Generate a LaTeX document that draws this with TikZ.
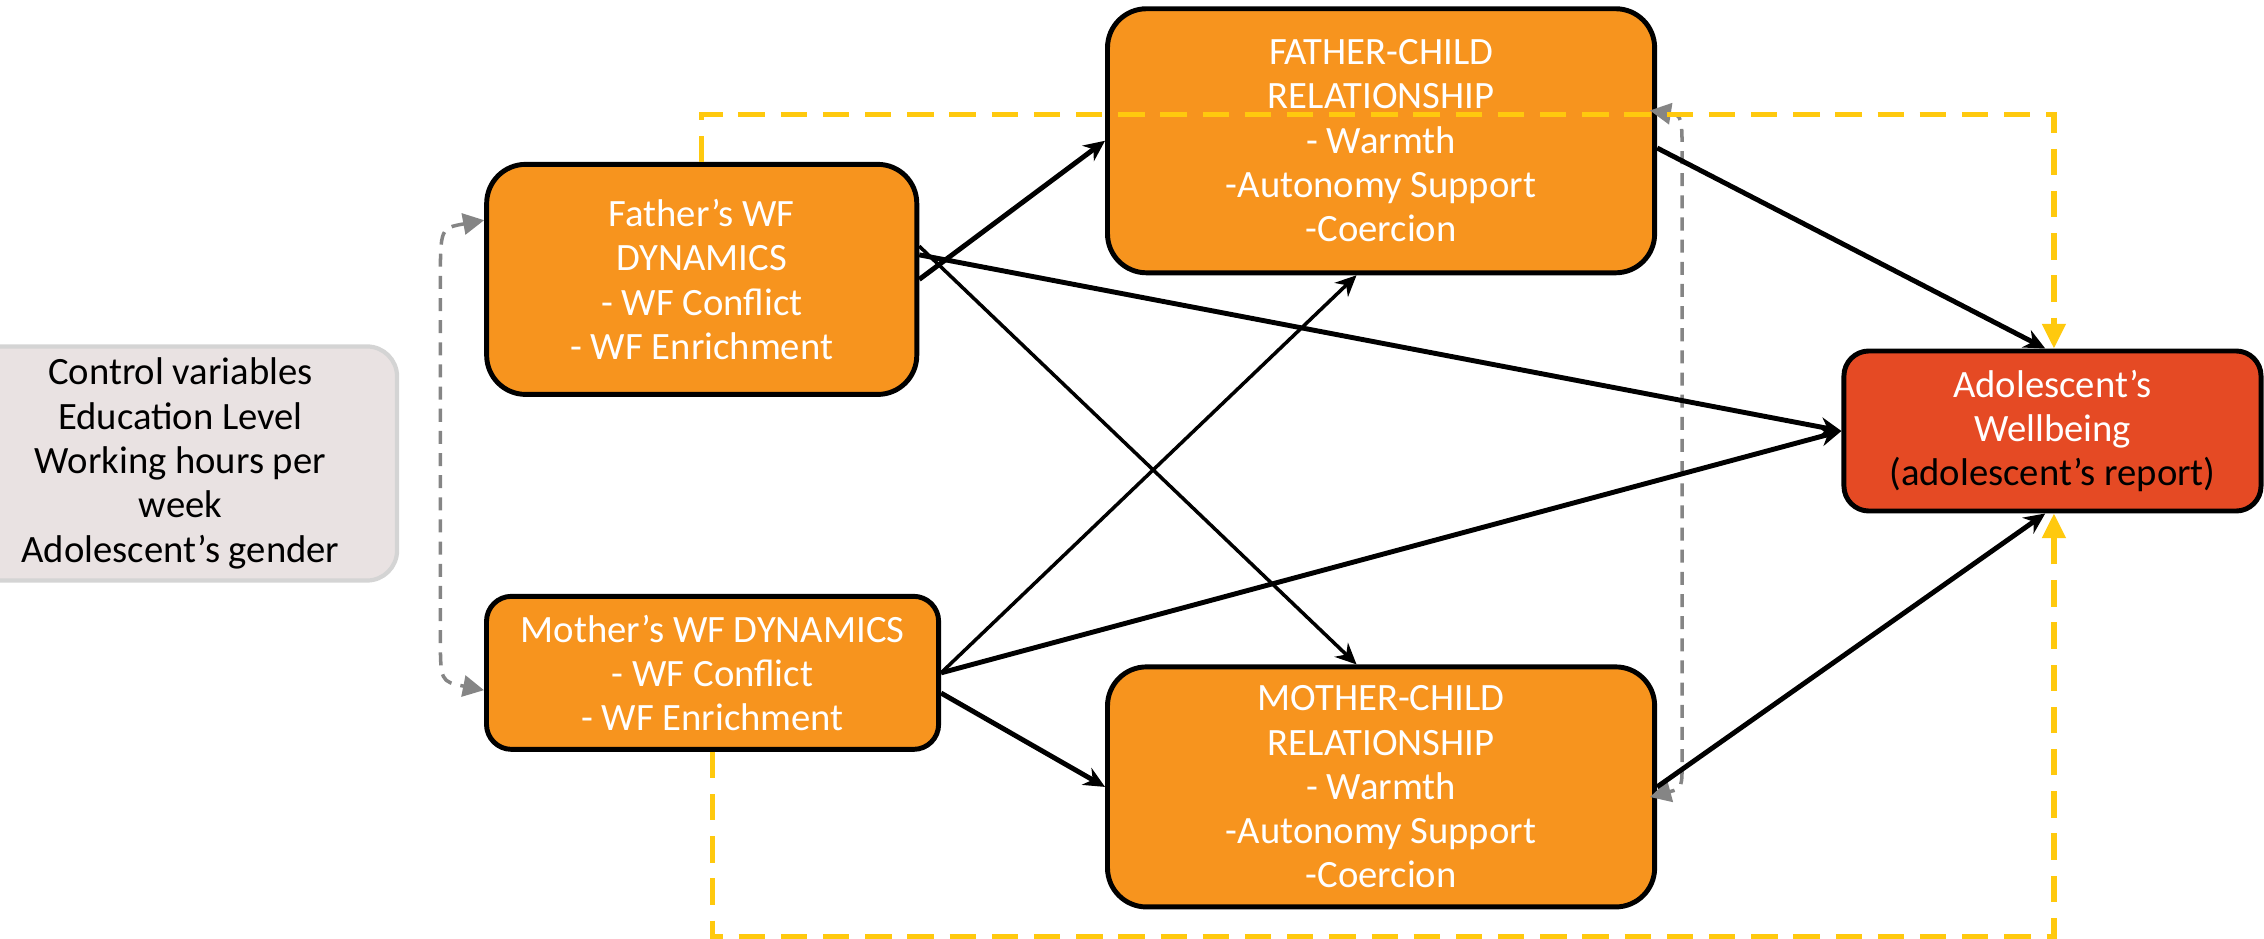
\documentclass[tikz,border=0pt]{standalone}
\usepackage{fontspec}
\setmainfont{Carlito}
\usepackage{xcolor}
\usetikzlibrary{arrows.meta, positioning, calc}
\definecolor{boxorange}{HTML}{F7941E}
\definecolor{boxred}{HTML}{E54A24}
\definecolor{ctrlfill}{HTML}{E9E2E2}
\definecolor{ctrldraw}{HTML}{D4D4D4}
\definecolor{linkyellow}{HTML}{FFC90E}
\definecolor{linkgray}{HTML}{858585}

\begin{document}
\begin{tikzpicture}[> = {Stealth[length=6pt, width=5.5pt]}, x=0.01444cm, y=-0.01444cm,
	every node/.style={font=\fontsize{11}{12.6}\selectfont, align=center, inner sep=0pt},
	wfbox/.style={draw=black, line width=1.4pt, fill=boxorange, text=white, rounded corners=0.39cm},
	outbox/.style={draw=black, line width=1.4pt, fill=boxred, text=white, rounded corners=0.25cm},
	ctrlbox/.style={draw=ctrldraw, line width=1.2pt, fill=ctrlfill, text=black, rounded corners=0.3cm},
	effect/.style={->, line width=1.4pt},
	thineffect/.style={->, line width=1pt},
	covary/.style={{Triangle[length=6pt, width=6pt]}-{Triangle[length=6pt, width=6pt]}, draw=linkgray, line width=1pt, dash pattern=on 3.7pt off 2.6pt},
	moderate/.style={-{Triangle[length=7pt, width=6.5pt]}, draw=linkyellow, line width=1.5pt, dash pattern=on 7.5pt off 4.5pt}]
	
	\clip (0,0) rectangle (1568,650);
	
	% boxes
	\node [ctrlbox, minimum width=4.33cm, minimum height=2.34cm] (ctrl) at (125,321)
	{Control variables\\Education Level\\Working hours per\\week\\Adolescent’s gender};
	
	\node [wfbox, minimum width=4.30cm, minimum height=2.30cm] (father) at (486,193.5)
	{Father’s WF\\DYNAMICS\\- WF Conflict\\- WF Enrichment};
	\node [wfbox, minimum width=4.52cm, minimum height=1.53cm, rounded corners=0.25cm] (mother) at (493.5,466)
	{Mother’s WF DYNAMICS\\- WF Conflict\\- WF Enrichment};
	
	\node [wfbox, minimum width=5.47cm, minimum height=2.64cm] (fc) at (956.5,97.5)
	{FATHER-CHILD\\RELATIONSHIP\\- Warmth\\-Autonomy Support\\-Coercion};
	\node [wfbox, minimum width=5.47cm, minimum height=2.40cm] (mc) at (956.5,545)
	{MOTHER-CHILD\\RELATIONSHIP\\- Warmth\\-Autonomy Support\\-Coercion};
	
	\node [outbox, minimum width=4.17cm, minimum height=1.60cm] (ado) at (1421.5,298.5)
	{Adolescent’s\\Wellbeing\\{\color{black}(adolescent’s report)}};
	
	% covariances
	\coordinate (fl) at ($(father.west)+(0,-41)$);
	\coordinate (ml) at ($(mother.west)+(0,12)$);
	\coordinate (fr) at ($(fc.east)+(-5,-21)$);
	\coordinate (mr) at ($(mc.east)+(-5,7)$);
	\draw [covary] (fl) .. controls (305,158) .. (305,195) -- (305,440) .. controls (305,472) .. (ml);
	\draw [covary] (fr) .. controls (1165,80) .. (1165,112) -- (1165,525) .. controls (1165,546) .. (mr);
	
	% paths
	\draw [effect] (father.east) -- (fc.west);
	\draw [effect] ($(father.east)+(0,-17)$) -- (ado.west);
	\draw [thineffect] ($(father.east)+(0,-23)$) -- ($(mc.north)+(-17,0)$);
	\draw [thineffect] (mother.east) -- ($(fc.south)+(-17,0)$);
	\draw [effect] (mother.east) -- (ado.west);
	\draw [effect] ($(mother.east)+(0,14)$) -- (mc.west);
	\draw [effect] ($(fc.east)+(0,5)$) -- ($(ado.north)+(-5,0)$);
	\draw [effect] (mc.east) -- ($(ado.south)+(-5,0)$);
	
	% moderation
	\draw [moderate] (father.north) -- ++(0,-33) -| ($(ado.north)+(1,0)$);
	\draw [moderate] (mother.south) -- ++(0,128) -| ($(ado.south)+(1,0)$);
\end{tikzpicture}
\end{document}
